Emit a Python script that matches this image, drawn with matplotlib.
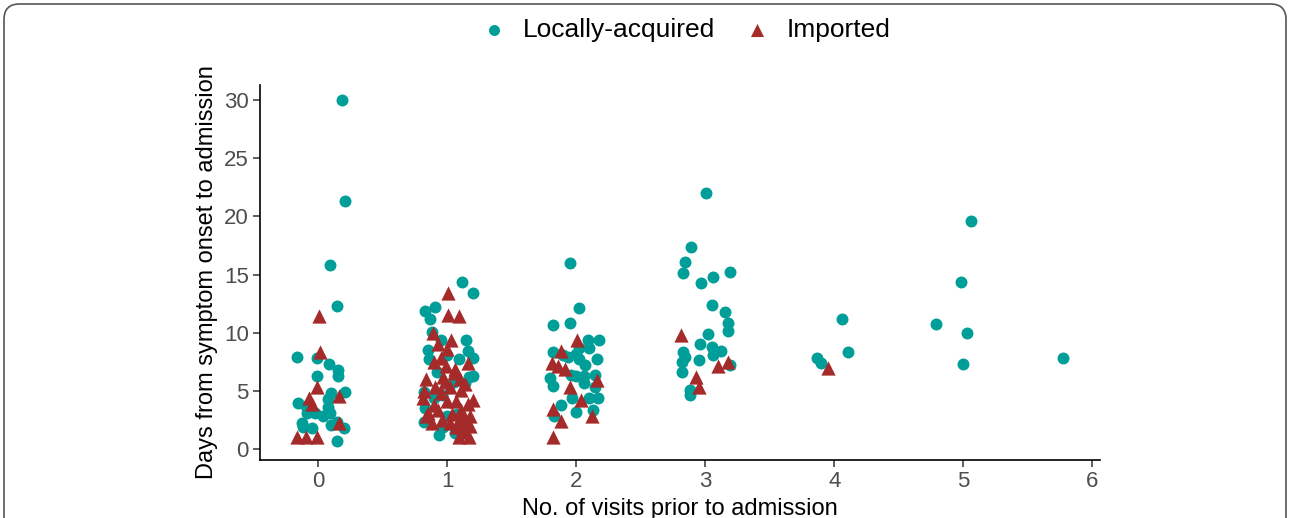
import matplotlib
matplotlib.use("Agg")
import matplotlib.pyplot as plt
from matplotlib.patches import FancyBboxPatch

plt.rcParams['font.family'] = ['Liberation Sans', 'DejaVu Sans']

# Jittered positions (x = no. of visits + jitter)
local_x = [0.186, 0.207, 0.09, 0.147, -0.16, -0.01, 0.083, 0.153, 0.153, -0.005,
           0.209, 0.098, 0.08, -0.157, -0.095, -0.088, -0.023, 0.04, 0.093, 0.1,
           0.145, 0.2, -0.126, -0.116, -0.05, 0.147, 0.08,
           1.114, 1.2, 0.827, 0.91, 0.866, 0.88, 0.95, 1.15, 0.85, 1.0, 1.09, 1.16,
           1.2, 0.86, 1.17, 1.2, 1.14, 0.82, 0.9, 0.96, 0.83, 1.0, 0.82, 0.97, 0.94,
           1.06, 1.05, 0.92, 1.08,
           1.953, 2.02, 1.82, 1.95, 2.09, 2.18, 2.1, 2.02, 2.0, 1.82, 1.9, 1.94, 2.02,
           2.07, 2.16, 1.96, 2.0, 2.06, 2.15, 1.8, 1.82, 2.06, 2.15, 1.97, 2.1, 2.17,
           1.88, 2.0, 2.13, 1.83,
           3.005, 2.89, 2.84, 2.83, 2.97, 3.06, 3.19, 3.05, 3.15, 3.18, 3.18, 3.02,
           2.96, 3.05, 3.06, 3.12, 2.83, 2.84, 2.82, 2.82, 2.95, 3.19, 2.88, 2.88,
           4.06, 4.11, 3.87, 3.9,
           5.06, 4.98, 4.79, 5.03, 5.0,
           5.77]
local_y = [30.0, 21.3, 15.8, 12.3, 7.9, 7.85, 7.3, 6.8, 6.3, 6.25,
           4.9, 4.8, 4.3, 3.95, 3.7, 3.1, 3.1, 2.85, 3.1, 2.1,
           2.3, 1.8, 2.2, 1.9, 1.8, 0.7, 3.6,
           14.4, 13.4, 11.9, 12.2, 11.2, 10.1, 9.4, 9.4, 8.5, 8.1, 7.7, 8.4,
           7.8, 7.7, 6.2, 6.3, 5.65, 4.9, 4.35, 4.6, 3.5, 2.8, 2.35, 1.9, 1.2,
           1.35, 5.8, 6.6, 3.0,
           16.0, 12.15, 10.65, 10.85, 9.4, 9.4, 8.65, 8.7, 8.2, 8.3, 8.1, 7.9, 7.7,
           7.2, 7.7, 6.35, 6.3, 6.3, 6.35, 6.1, 5.4, 5.7, 5.35, 4.35, 4.35, 4.4,
           3.8, 3.15, 3.35, 2.85,
           22.0, 17.35, 16.05, 15.15, 14.25, 14.75, 15.2, 12.35, 11.8, 10.8, 10.15, 9.85,
           9.0, 8.8, 8.1, 8.4, 8.3, 7.9, 7.5, 6.65, 7.65, 7.2, 5.1, 4.65,
           11.2, 8.3, 7.8, 7.4,
           19.6, 14.35, 10.75, 10.0, 7.3,
           7.85]

imported_x = [0.008, 0.016, -0.01, 0.16, -0.072, -0.05, 0.16, -0.16, -0.01, -0.09,
              1.005, 1.005, 1.09, 0.89, 1.03, 0.93, 0.9, 0.99, 0.97, 1.05, 1.16, 0.84,
              0.91, 1.02, 1.11, 0.81, 1.0, 1.07, 1.2, 0.85, 0.93, 1.11, 1.18, 0.84,
              0.88, 1.07, 1.12, 1.18, 1.09, 1.17, 0.95, 1.1, 1.04, 1.13, 0.96, 1.15,
              0.82, 0.98, 1.06, 1.14, 0.9, 1.02, 1.1, 1.16, 0.95, 1.0,
              2.01, 1.88, 1.81, 1.86, 1.91, 2.16, 1.95, 2.04, 1.82, 2.12, 1.88, 1.82,
              2.81, 3.1, 3.18, 2.93, 2.95,
              3.95]
imported_y = [11.4, 8.3, 5.3, 4.55, 4.4, 3.9, 2.2, 1.05, 1.05, 1.05,
              13.45, 11.5, 11.4, 10.0, 9.4, 9.0, 7.5, 7.1, 6.2, 6.5, 7.4, 6.0,
              5.35, 5.35, 5.1, 4.35, 4.1, 4.1, 4.2, 3.1, 3.35, 3.35, 2.8, 2.8,
              2.2, 1.9, 1.9, 2.0, 1.05, 1.05, 7.8, 6.0, 3.0, 2.5, 2.5, 1.5,
              5.0, 5.8, 6.9, 5.6, 3.8, 2.2, 2.7, 3.9, 4.8, 8.6,
              9.4, 8.4, 7.4, 7.1, 6.9, 5.95, 5.35, 4.2, 3.4, 2.85, 2.4, 1.05,
              9.8, 7.15, 7.5, 6.2, 5.35,
              6.95]

x_ticks = [0, 1, 2, 3, 4, 5, 6]
y_ticks = [0, 5, 10, 15, 20, 25, 30]
series_labels = ["Locally-acquired", "Imported"]
teal = "#009E99"
red = "#A52A2A"

fig = plt.figure(figsize=(12.9, 5.18), dpi=100)
ax = fig.add_axes([260/1290, 1 - 460/518, 840/1290, 375/518])

ax.scatter(local_x, local_y, s=74, marker='o', color=teal, linewidths=0,
           label=series_labels[0], zorder=3)
ax.scatter(imported_x, imported_y, s=105, marker='^', color=red, linewidths=0,
           label=series_labels[1], zorder=4)

ax.set_xlim(-0.45, 6.06)
ax.set_ylim(-0.95, 31.3)
ax.set_xticks(x_ticks)
ax.set_yticks(y_ticks)
for s in ['top', 'right']:
    ax.spines[s].set_visible(False)
for s in ['left', 'bottom']:
    ax.spines[s].set_linewidth(1.2)
    ax.spines[s].set_color('black')
ax.tick_params(axis='both', length=5, width=1.1, color='#333333',
               labelsize=16, labelcolor='#4D4D4D', pad=3)
ax.set_xlabel("No. of visits prior to admission", fontsize=17, color='black', labelpad=4)
ax.set_ylabel("Days from symptom onset to admission", fontsize=17, color='black', labelpad=4)

h, l = ax.get_legend_handles_labels()
leg = fig.legend(h, l, loc='center', bbox_to_anchor=(684/1290, 1 - 30/518), ncol=2,
                 frameon=False, fontsize=19, handletextpad=0.5, columnspacing=1.0,
                 markerscale=0.92, borderaxespad=0, handlelength=1.2)

border = FancyBboxPatch((4/1290, -0.2), 1282/1290, (1 - 4/518) + 0.2,
                        boxstyle="round,pad=0,rounding_size=0.012",
                        transform=fig.transFigure, fill=False,
                        edgecolor='#555555', linewidth=1.2, mutation_aspect=1290/518)
fig.patches.append(border)

fig.savefig("out.png", dpi=100)
